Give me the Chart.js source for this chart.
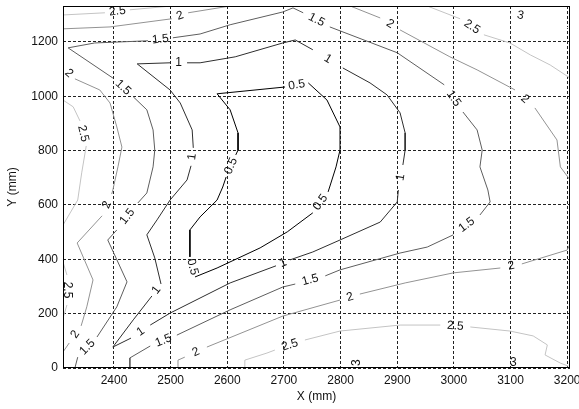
<!DOCTYPE html>
<html>
<head>
<meta charset="utf-8">
<script src="https://cdn.jsdelivr.net/npm/chart.js@4/dist/chart.umd.min.js"></script>
<style>
  html, body { margin: 0; padding: 0; background: #fff; }
  #wrap { width: 579px; height: 409px; }
</style>
</head>
<body>
<div id="wrap"><canvas id="c" width="579" height="409"></canvas></div>
<script>
// Axis ranges and tick positions (mm)
const xRange = [2310, 3205];
const yRange = [0, 1332];
const xTicks = [2400, 2500, 2600, 2700, 2800, 2900, 3000, 3100, 3200];
const yTicks = [0, 200, 400, 600, 800, 1000, 1200];

// Contour lines as [x, y] points in mm.
// A null marks a break in the line; the level value is written inside the break.
const c05 = [
  [2543,335],[2582,368],[2658,442],[2706,501],[2751,571], null,
  [2778,648],[2792,740],[2799,802],[2799,887],[2776,986],[2743,1049], null,
  [2702,1034],[2582,1009],[2605,950],[2619,865],[2619,802],[2615,784], null,
  [2598,703],[2592,666],[2582,618],[2552,556],[2534,508],[2534,409], null,
  [2543,335]
];
const c10 = [
  [2441,1119],[2499,1123], null,
  [2529,1123],[2552,1123],[2614,1145],[2698,1196],[2720,1207],[2751,1171], null,
  [2804,1104],[2852,1049],[2882,1005],[2905,939],[2914,865],[2914,802],[2910,747], null,
  [2902,655],[2900,611],[2870,537],[2799,471],[2751,427],[2711,398], null,
  [2686,376],[2605,313],[2499,202],[2464,158], null,
  [2430,110],[2398,77],[2434,177],[2467,265], null,
  [2483,309],[2472,405],[2458,490],[2476,545],[2499,618],[2529,692],[2536,744], null,
  [2540,810],[2538,876],[2517,975],[2499,1023],[2441,1119]
];
const c15 = [
  [2331,0],[2336,40], null,
  [2370,114],[2405,225],[2423,317],[2389,471],[2405,508], null,
  [2442,607],[2458,644],[2469,740],[2472,802],[2469,876],[2458,950],[2434,998], null,
  [2398,1067],[2319,1178],[2366,1196],[2460,1204], null,
  [2504,1215],[2552,1229],[2605,1263],[2698,1310],[2716,1325],[2734,1307], null,
  [2781,1255],[2900,1160],[2983,1042], null,
  [3016,942],[3041,876],[3050,802],[3046,740],[3060,655],[3064,611],[3046,563], null,
  [2999,490],[2953,445],[2905,423],[2799,361],[2773,339], null,
  [2720,309],[2698,298],[2605,214],[2511,121], null,
  [2464,81],[2428,37],[2428,0]
];
const c20Left = [
  [2310,1104], null,
  [2331,1064],[2375,1023],[2393,975],[2405,887],[2414,813],[2407,740],[2398,655],[2396,640], null,
  [2379,560],[2335,460],[2363,324],[2352,225],[2342,155], null,
  [2321,92],[2310,59]
];
const c20TopLeft = [[2310,1248],[2393,1255],[2502,1285], null, [2531,1307],[2605,1332]];
const c20Bottom = [
  [2513,0],[2513,29],[2525,40], null,
  [2564,77],[2698,191],[2799,250], null,
  [2834,272],[2914,313],[2999,350],[3082,368], null,
  [3120,383],[3200,434],[3205,456]
];
const c20Top = [
  [2817,1332],[2870,1288], null,
  [2905,1244],[2993,1145],[3041,1097],[3108,1023], null,
  [3143,957],[3182,839],[3188,740],[3205,692]
];
const c25TopLeft = [[2310,1299],[2384,1307], null, [2428,1318],[2502,1332]];
const c25TopRight = [
  [2953,1332],[3011,1285], null,
  [3053,1226],[3099,1196],[3135,1152],[3170,1115],[3205,1067]
];
const c25Left = [[2310,986],[2328,961],[2340,909], null, [2351,817],[2343,718],[2336,618],[2310,526]];
const c25LeftLow = [[2310,390],[2317,342], null, [2317,232],[2310,184]];
const c25Bottom = [
  [2631,0],[2631,29],[2670,55],[2684,66], null,
  [2737,103],[2799,136],[2905,158],[2976,158], null,
  [3029,151],[3099,136],[3140,118],[3165,85],[3161,48],[3188,18],[3202,7]
];
const c30Bottom = [[2829,0], null, [2829,40],[2900,30],[3000,25],[3095,18], null, [3115,18],[3190,0]];
const c30Top = [[3040,1332],[3100,1305], null, [3135,1290],[3205,1250]];

const contours = [
  { level: 0.5, pts: c05 },
  { level: 1,   pts: c10 },
  { level: 1.5, pts: c15 },
  { level: 2,   pts: c20Left },
  { level: 2,   pts: c20TopLeft },
  { level: 2,   pts: c20Bottom },
  { level: 2,   pts: c20Top },
  { level: 2.5, pts: c25TopLeft },
  { level: 2.5, pts: c25TopRight },
  { level: 2.5, pts: c25Left },
  { level: 2.5, pts: c25LeftLow },
  { level: 2.5, pts: c25Bottom },
  { level: 3,   pts: c30Bottom },
  { level: 3,   pts: c30Top }
];

// grey colormap: darkest for the lowest level, white for the highest
const levelColor = { 0.5: '#000000', 1: '#2e2e2e', 1.5: '#5e5e5e', 2: '#939393', 2.5: '#c4c4c4', 3: '#ffffff' };
const FONT = "'Liberation Sans', Arial, Helvetica, sans-serif";

const datasets = contours.map(c => ({
  level: c.level,
  data: c.pts.map(p => p ? { x: p[0], y: p[1] } : { x: null, y: null }),
  borderColor: levelColor[c.level],
  borderWidth: 1,
  pointRadius: 0,
  showLine: true,
  spanGaps: false,
  fill: false,
  tension: 0
}));

// Writes each level value inside the breaks of its line, turned along the line
const contourLabels = {
  id: 'contourLabels',
  afterDatasetsDraw(chart) {
    const { ctx, chartArea: a, scales: { x, y } } = chart;
    ctx.save();
    ctx.beginPath();
    ctx.rect(a.left, a.top, a.right - a.left, a.bottom - a.top);
    ctx.clip();
    ctx.font = '12px ' + FONT;
    ctx.fillStyle = '#111';
    ctx.textAlign = 'center';
    ctx.textBaseline = 'middle';
    chart.data.datasets.forEach(ds => {
      const d = ds.data;
      for (let i = 1; i < d.length - 1; i++) {
        if (d[i].x !== null) continue;
        const p = d[i - 1], q = d[i + 1];
        const px = x.getPixelForValue(p.x), py = y.getPixelForValue(p.y);
        const qx = x.getPixelForValue(q.x), qy = y.getPixelForValue(q.y);
        let ang = Math.atan2(qy - py, qx - px);
        if (ang > Math.PI / 2) ang -= Math.PI;
        if (ang < -Math.PI / 2) ang += Math.PI;
        ctx.save();
        ctx.translate((px + qx) / 2, (py + qy) / 2);
        ctx.rotate(ang);
        ctx.fillText(String(ds.level), 0, 0);
        ctx.restore();
      }
    });
    ctx.restore();
  }
};

// Solid frame around the plotting area
const frame = {
  id: 'frame',
  afterDraw(chart) {
    const { ctx, chartArea: a } = chart;
    ctx.save();
    ctx.strokeStyle = '#000';
    ctx.lineWidth = 1;
    const l = Math.round(a.left) + 0.5, t = Math.round(a.top) + 0.5;
    const r = Math.round(a.right) - 0.5, b = Math.round(a.bottom) - 0.5;
    ctx.strokeRect(l, t, r - l, b - t);
    ctx.restore();
  }
};

new Chart(document.getElementById('c'), {
  type: 'scatter',
  data: { datasets },
  plugins: [contourLabels, frame],
  options: {
    responsive: false,
    animation: false,
    events: [],
    layout: { padding: { top: 6, right: 9, left: 0, bottom: 0 } },
    plugins: { legend: { display: false }, tooltip: { enabled: false } },
    scales: {
      x: {
        type: 'linear',
        min: xRange[0],
        max: xRange[1],
        afterBuildTicks(s) { s.ticks = xTicks.map(v => ({ value: v })); },
        afterFit(s) { s.height = 41; s.paddingLeft = 0; s.paddingRight = 0; },
        ticks: {
          padding: 5,
          maxRotation: 0,
          autoSkip: false,
          color: '#111',
          font: { family: FONT, size: 12 },
          callback: v => String(v)
        },
        grid: { color: '#222', lineWidth: 1, drawTicks: false },
        border: { display: false, dash: [3, 2] },
        title: { display: true, text: 'X (mm)', color: '#111', font: { family: FONT, size: 12 }, padding: { top: 0, bottom: 5 } }
      },
      y: {
        type: 'linear',
        min: yRange[0],
        max: yRange[1],
        afterBuildTicks(s) { s.ticks = yTicks.map(v => ({ value: v })); },
        afterFit(s) { s.width = 63; s.paddingTop = 0; s.paddingBottom = 0; },
        ticks: {
          padding: 5,
          autoSkip: false,
          color: '#111',
          font: { family: FONT, size: 12 },
          callback: v => String(v)
        },
        grid: { color: '#222', lineWidth: 1, drawTicks: false },
        border: { display: false, dash: [3, 2] },
        title: { display: true, text: 'Y (mm)', color: '#111', font: { family: FONT, size: 12 }, padding: { top: 5, bottom: 0 } }
      }
    }
  }
});
</script>
</body>
</html>
